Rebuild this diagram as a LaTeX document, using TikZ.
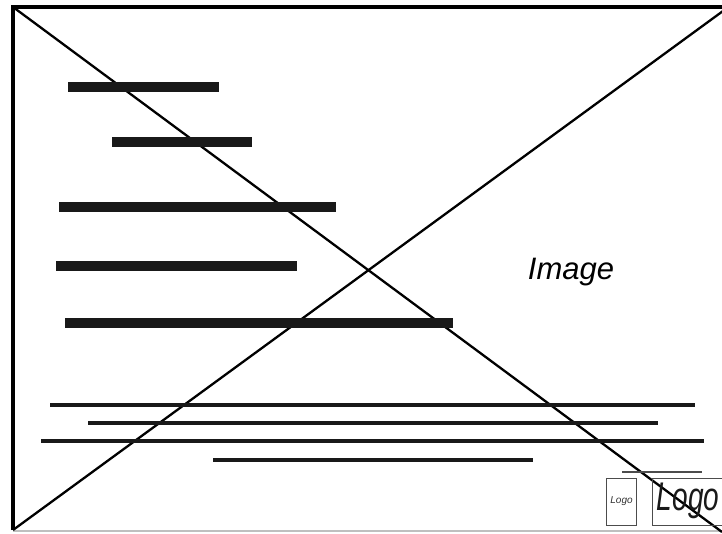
\documentclass[tikz,border=0pt]{standalone}
\usepackage{fontspec}
\setsansfont{Liberation Sans}
\usepackage{tikz}
\usetikzlibrary{positioning}

\begin{document}
\begin{tikzpicture}[
    x=1pt, y=-1pt,
    frame/.style={line width=3.5pt, black},
    cross/.style={line width=2.3pt, black},
    bar/.style={line width=9.5pt, black!90},
    rule/.style={line width=3.3pt, black!90},
    label/.style={font=\sffamily\itshape, inner sep=0pt}
]
\useasboundingbox (0,0) rectangle (722,533);

% frame and crossing
\draw[frame] (13,530) -- (13,7) -- (722,7);
\draw[black!25, line width=1.5pt] (13,531) -- (722,531);
\draw[cross] (13,7) -- (722,532);
\draw[cross] (13,530) -- (723,11);

% heading bars
\foreach \xa/\xb/\yy in {68/219/87, 112/252/142, 59/336/207, 56/297/266, 65/453/323}
  \draw[bar] (\xa,\yy) -- (\xb,\yy);

% body lines
\foreach \xa/\xb/\yy in {50/695/405, 88/658/423, 41/704/441, 213/533/460}
  \draw[rule] (\xa,\yy) -- (\xb,\yy);
\draw[black!70, line width=1.2pt] (622,472) -- (702,472);

% image caption
\node[label, font=\sffamily\itshape\fontsize{31}{37}\selectfont] (image) at (571,272) {Image};

% logos
\node[draw, black!70, line width=1pt, minimum width=30pt, minimum height=47pt,
      inner sep=0pt] (logosmall) at (621.5,501.5) {};
\node[label, black!80, font=\sffamily\itshape\fontsize{10}{12}\selectfont] (logosmalltext)
      at (logosmall.center) {Logo};
\draw[black!70, line width=1pt] (724,478) -- (652,478) -- (652,525) -- (724,525);
\node[label, black!90, font=\sffamily\itshape\fontsize{40}{46}\selectfont] (logobig)
      at (688,501) {\scalebox{0.7}[1]{Logo}};
\end{tikzpicture}
\end{document}
